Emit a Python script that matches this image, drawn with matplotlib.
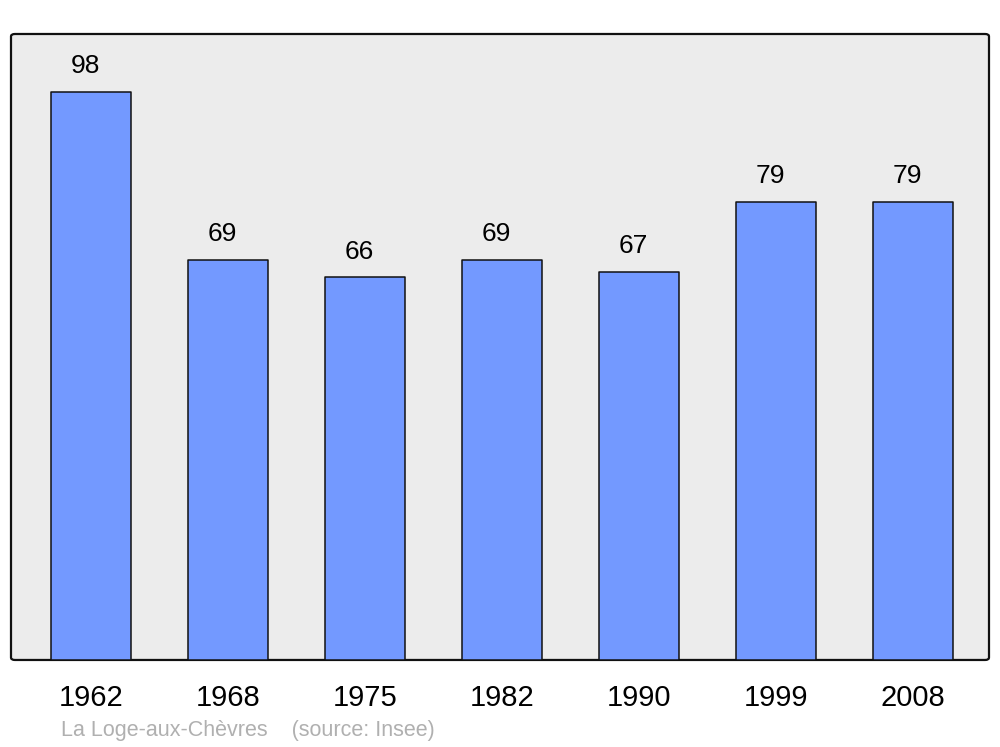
import matplotlib.pyplot as plt
from matplotlib.patches import FancyBboxPatch

years = ['1962', '1968', '1975', '1982', '1990', '1999', '2008']
population = [98, 69, 66, 69, 67, 79, 79]

plt.rcParams['font.family'] = ['Liberation Sans', 'DejaVu Sans']

fig = plt.figure(figsize=(10, 7.47), dpi=100)
ax = fig.add_axes([0.011, 0.1165, 0.978, 0.838])
ax.set_facecolor('none')

# rounded frame
frame = FancyBboxPatch((0, 0), 1, 1, boxstyle='round,pad=0,rounding_size=0.004',
                       transform=ax.transAxes, facecolor='#ececec',
                       edgecolor='#111111', linewidth=1.6, zorder=0, clip_on=False)
ax.add_patch(frame)
for s in ax.spines.values():
    s.set_visible(False)

x = range(len(years))
bars = ax.bar(x, population, width=0.58, color='#7399ff', edgecolor='#111111',
              linewidth=1.1, zorder=2)
for b in bars:
    b.set_joinstyle('round')

for xi, v in zip(x, population):
    ax.annotate(str(v), (xi, v), xytext=(-4, 18.5), textcoords='offset points',
                ha='center', va='center', fontsize=19)

ax.set_xlim(-0.584, 6.555)
ax.set_ylim(0, 108)
ax.set_yticks([])
ax.set_xticks(list(x))
ax.set_xticklabels(years, fontsize=21)
ax.tick_params(axis='x', length=0, pad=17)

fig.text(0.061, 0.0225, 'La Loge-aux-Chèvres    (source: Insee)', fontsize=15.5,
         color='#b0b0b0', ha='left', va='center')

fig.savefig('out.png', dpi=100)
